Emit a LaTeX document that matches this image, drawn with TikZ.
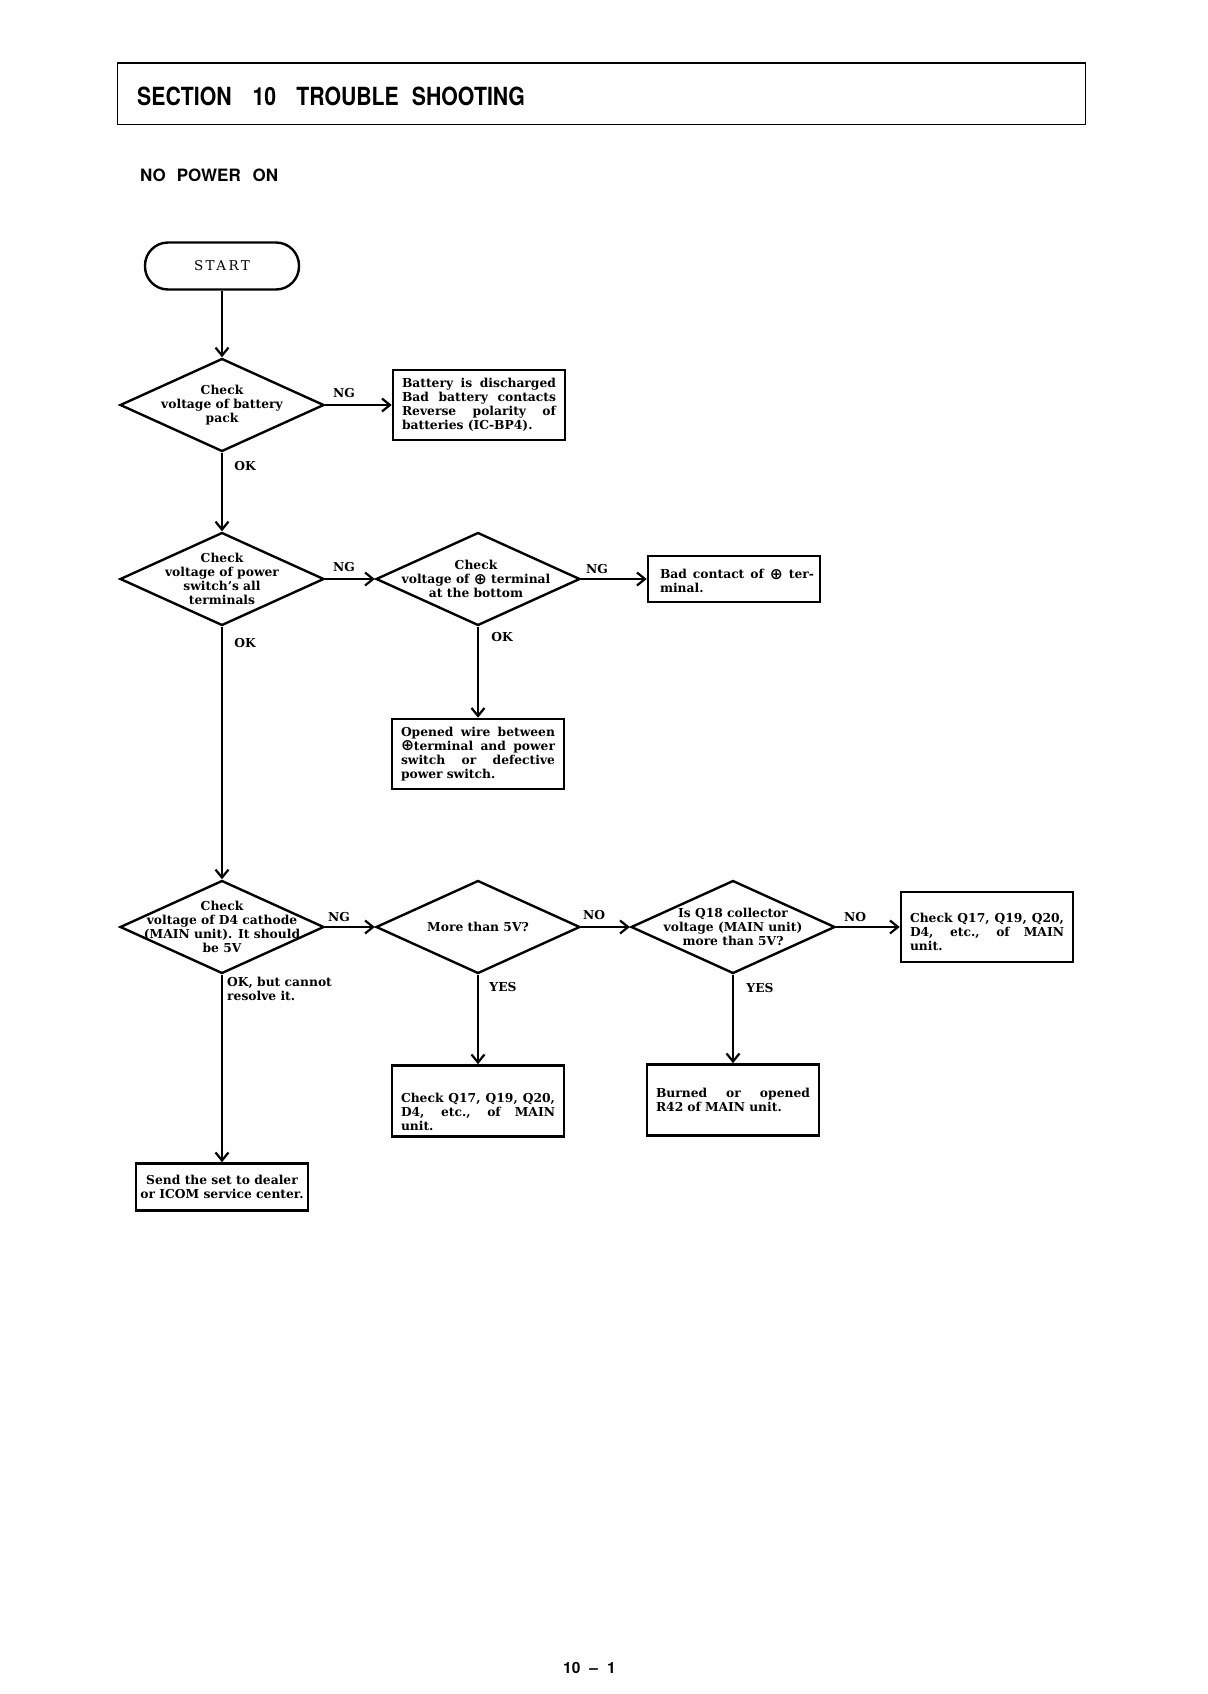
\documentclass[tikz,border=0pt]{standalone}
\usepackage{fontspec}
\setmainfont{DejaVu Serif}
\newfontfamily\headfont[FakeStretch=0.85]{TeX Gyre Heros}
\newfontfamily\subfont{TeX Gyre Heros}
\newfontfamily\startfont[LetterSpace=18]{DejaVu Serif}
\newfontfamily\symfont{DejaVu Sans}
\usetikzlibrary{arrows.meta,shapes.geometric}
\newcommand\jl[1]{\makebox[154pt][s]{\spaceskip=0.3333em plus 1fil\relax #1}\\}
\newcommand\opl{\raisebox{-0.5pt}{\symfont\fontsize{15.5}{14}\selectfont ⊕}}
\tikzset{
  base/.style={font=\fontsize{12.3}{14}\selectfont\bfseries},
  dia/.style={draw, diamond, line width=2.4pt, inner sep=0pt, minimum width=204pt, minimum height=93pt},
  dtext/.style={base, align=center, inner sep=0pt},
  box/.style={draw, rectangle, line width=2.6pt, inner sep=0pt, minimum width=172pt},
  btext/.style={base, text width=154pt, align=left, inner sep=0pt},
  lab/.style={base, inner sep=0pt},
  arr/.style={line width=2pt, -{Straight Barb[length=8pt, width=13pt, line width=2.2pt]}},
}
\begin{document}
\begin{tikzpicture}[x=1pt,y=-1pt]
\useasboundingbox (0,0) rectangle (1207,1694);
% header
\node[draw, line width=1.3pt, minimum width=968pt, minimum height=61pt, inner sep=0pt, anchor=north west] (hdr) at (116.5,62.5) {};
\node[anchor=base west, inner sep=0pt, font=\headfont\bfseries\fontsize{25}{30}\selectfont] (title) at (137,105) {SECTION\hspace{21pt}10\hspace{20pt}TROUBLE\hspace{13pt}SHOOTING};
\node[anchor=base west, inner sep=0pt, font=\subfont\bfseries\fontsize{17}{20}\selectfont] (sub) at (140,181) {NO\hspace{11pt}POWER\hspace{12pt}ON};
\node[anchor=base west, inner sep=0pt, font=\subfont\bfseries\fontsize{15.5}{18}\selectfont] (pg) at (563,1673) {10\hspace{9pt}\textendash\hspace{9pt}1};

% start
\node[draw, line width=2.4pt, rounded corners=23pt, minimum width=154pt, minimum height=47pt, inner sep=0pt, font=\startfont\fontsize{13.5}{16}\selectfont] (start) at (222,266) {START};

% diamonds
\node[dia, label={[name=d1t, dtext]center:{Check\\voltage of battery\\pack}}] (d1) at (222,405) {};
\node[dia, label={[name=d2t, dtext]center:{Check\\voltage of power\\switch's all\\terminals}}] (d2) at (222,579) {};
\node[dia, label={[name=d3t, dtext, xshift=-2pt]center:{Check\\voltage of \opl\ terminal\\at the bottom}}] (d3) at (478,579) {};
\node[dia, label={[name=d4t, dtext]center:{Check\\voltage of D4 cathode\\(MAIN unit). It should\\be 5V}}] (d4) at (222,927) {};
\node[dia, label={[name=d5t, dtext]center:{More than 5V?}}] (d5) at (478,927) {};
\node[dia, label={[name=d6t, dtext]center:{Is Q18 collector\\voltage (MAIN unit)\\more than 5V?}}] (d6) at (733,927) {};

% boxes
\node[box, minimum height=70pt, label={[name=b1t, btext]center:{\jl{Battery is discharged}\jl{Bad battery contacts}\jl{Reverse polarity of}batteries (IC-BP4).}}] (b1) at (479,405) {};
\node[box, minimum height=46pt, label={[name=b2t, btext, xshift=3pt, yshift=-2pt]center:{\jl{Bad contact of \opl\ ter-}minal.}}] (b2) at (734,579) {};
\node[box, minimum height=70pt, label={[name=b3t, btext]center:{\jl{Opened wire between}\jl{\opl terminal and power}\jl{switch or defective}power switch.}}] (b3) at (478,754) {};
\node[box, minimum height=70pt, label={[name=b4t, btext, yshift=-5pt]center:{\jl{Check Q17, Q19, Q20,}\jl{D4, etc., of MAIN}unit.}}] (b4) at (987,927) {};
\node[box, minimum height=71pt, label={[name=b5t, btext, yshift=-11pt]center:{\jl{Check Q17, Q19, Q20,}\jl{D4, etc., of MAIN}unit.}}] (b5) at (478,1101) {};
\node[box, minimum height=71pt, label={[name=b6t, btext]center:{\jl{Burned or opened}R42 of MAIN unit.}}] (b6) at (733,1100) {};
\node[box, minimum height=47pt, label={[name=b7t, dtext]center:{Send the set to dealer\\or ICOM service center.}}] (b7) at (222,1187) {};

% connectors
\draw[arr] (start) -- (d1);
\draw[arr] (d1.east) -- (b1.west);
\draw[arr] (d1.south) -- (d2.north);
\draw[arr] (d2.east) -- (d3.west);
\draw[arr] (d3.east) -- (b2.west);
\draw[arr] (d3.south) -- (b3.north);
\draw[arr] (d2.south) -- (d4.north);
\draw[arr] (d4.east) -- (d5.west);
\draw[arr] (d5.east) -- (d6.west);
\draw[arr] (d6.east) -- (b4.west);
\draw[arr] (d5.south) -- (b5.north);
\draw[arr] (d6.south) -- (b6.north);
\draw[arr] (d4.south) -- (b7.north);

% connector labels
\node[lab] (ng1) at (344,393) {NG};
\node[lab] (ok1) at (245,466) {OK};
\node[lab] (ng2) at (344,567) {NG};
\node[lab] (ok2) at (245,643) {OK};
\node[lab] (ng3) at (597,569) {NG};
\node[lab] (ok3) at (502,637) {OK};
\node[lab] (ng4) at (339,917) {NG};
\node[lab] (no5) at (594,915) {NO};
\node[lab] (no6) at (855,917) {NO};
\node[lab] (yes5) at (503,987) {YES};
\node[lab] (yes6) at (760,988) {YES};
\node[lab, anchor=north west, align=left] (okb) at (227,977) {OK, but cannot\\resolve it.};
\end{tikzpicture}
\end{document}
